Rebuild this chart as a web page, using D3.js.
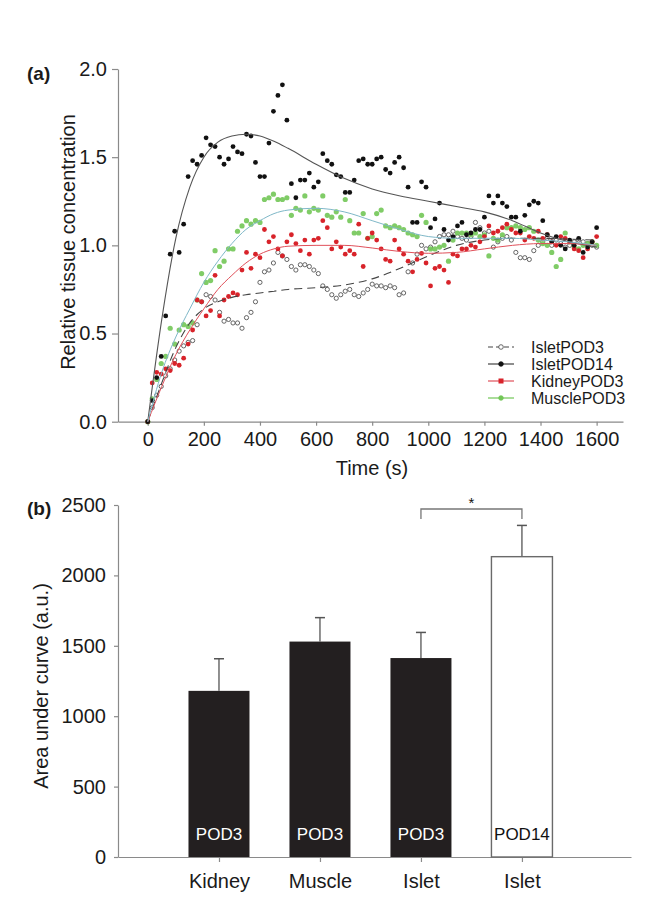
<!DOCTYPE html>
<html><head><meta charset="utf-8">
<script src="https://cdn.jsdelivr.net/npm/d3@7"></script>
<style>body{margin:0;background:#fff}svg{display:block;font-family:"Liberation Sans",Arial,sans-serif}</style>
</head><body><svg id="c" width="654" height="915"></svg>
<script>
// ---------- Panel (a) data ----------
const timeS = [0,16,32,48,64,80,96,112,128,144,160,176,192,208,224,240,256,272,288,304,320,336,352,368,384,400,416,432,448,464,480,496,512,528,544,560,576,592,608,624,640,656,672,688,704,720,736,752,768,784,800,816,832,848,864,880,896,912,928,944,960,976,992,1008,1024,1040,1056,1072,1088,1104,1120,1136,1152,1168,1184,1200,1216,1232,1248,1264,1280,1296,1312,1328,1344,1360,1376,1392,1408,1424,1440,1456,1472,1488,1504,1520,1536,1552,1568,1584,1600];
const isletPOD3 = [0,0.08,0.15,0.20,0.26,0.30,0.35,0.40,0.43,0.45,0.46,0.55,0.68,0.72,0.71,0.69,0.62,0.57,0.58,0.56,0.56,0.53,0.59,0.62,0.68,0.79,0.85,0.86,0.90,0.96,0.94,0.92,0.88,0.86,0.89,0.89,0.88,0.86,0.84,0.77,0.75,0.72,0.70,0.72,0.74,0.75,0.72,0.71,0.73,0.75,0.78,0.77,0.77,0.76,0.77,0.76,0.72,0.73,0.85,0.90,0.95,1.00,0.98,0.99,1.02,1.05,1.06,1.06,1.08,1.05,1.04,1.03,1.05,1.13,1.10,1.07,1.08,0.99,1.02,1.04,1.05,1.03,0.96,0.93,0.93,0.92,0.97,1.00,1.02,1.04,1.00,1.03,1.01,0.99,1.00,1.02,1.03,1.02,1.01,1.00,0.99];
const isletPOD14 = [0,0.12,0.25,0.37,0.60,0.95,1.08,0.96,1.12,1.39,1.48,1.46,1.51,1.61,1.57,1.56,1.50,1.46,1.49,1.56,1.53,1.52,1.63,1.62,1.47,1.39,1.39,1.58,1.76,1.85,1.91,1.71,1.35,1.27,1.37,1.37,1.41,1.33,1.36,1.52,1.48,1.46,1.40,1.39,1.30,1.30,1.37,1.48,1.49,1.46,1.46,1.49,1.50,1.43,1.41,1.47,1.50,1.44,1.33,1.13,1.13,1.36,1.33,1.10,1.15,1.24,1.09,1.03,1.05,1.11,1.13,1.06,1.07,1.09,1.09,1.16,1.28,1.24,1.28,1.24,1.22,1.16,1.16,1.08,1.17,1.23,1.25,1.24,1.14,1.06,1.02,1.05,1.00,0.98,1.03,1.00,1.04,0.96,0.99,1.02,1.10];
const kidneyPOD3 = [0,0.22,0.28,0.27,0.30,0.29,0.33,0.32,0.36,0.44,0.52,0.69,0.68,0.60,0.63,0.83,0.60,0.69,0.71,0.73,0.72,0.86,0.96,0.87,0.95,0.93,1.09,1.02,1.05,0.98,0.94,1.02,1.06,1.01,0.97,1.03,0.95,1.03,1.04,1.14,1.10,0.98,1.02,0.99,0.95,0.97,0.95,1.12,0.88,1.04,1.07,1.03,0.98,0.92,0.91,1.03,0.98,0.95,0.91,0.85,0.92,0.955,0.90,0.77,0.87,0.88,0.86,0.79,0.95,0.94,0.98,0.98,1.00,0.99,1.02,1.05,1.11,1.07,1.08,1.10,1.12,1.09,1.07,1.07,1.03,1.05,1.04,1.08,1.04,1.06,1.02,1.00,1.05,1.04,1.02,0.98,0.97,0.93,0.98,1.02,1.05];
const musclePOD3 = [0,0.13,0.24,0.33,0.37,0.53,0.44,0.52,0.55,0.54,0.56,0.69,0.84,0.79,0.80,0.97,0.88,0.91,0.98,0.98,1.08,1.11,1.14,1.12,1.14,1.13,1.26,1.27,1.29,1.26,1.26,1.27,1.17,1.21,1.20,1.28,1.19,1.21,1.20,1.28,1.17,1.16,1.19,1.16,1.26,1.14,1.07,1.07,1.18,1.04,1.05,1.18,1.20,1.11,1.10,1.11,1.10,1.09,1.07,1.06,1.05,1.17,1.13,0.98,0.98,0.99,1.00,0.91,1.03,1.07,1.07,1.07,1.06,1.07,1.05,1.06,0.94,1.04,1.03,1.06,1.10,1.10,1.11,1.10,1.09,1.10,1.08,1.03,1.01,1.00,0.96,0.88,0.92,1.07,1.02,0.99,0.98,1.00,1.01,1.02,1.00];
// fitted curves (knots)
const fitTime = [0,50,100,150,200,250,300,350,400,450,500,600,700,800,900,1000,1100,1200,1300,1400,1500,1600];
const fitIsletPOD3 = [0,0.22,0.42,0.56,0.64,0.68,0.705,0.72,0.73,0.74,0.75,0.76,0.775,0.81,0.87,0.94,1.0,1.03,1.04,1.04,1.035,1.03];
const fitIsletPOD14 = [0,0.58,1.04,1.33,1.50,1.585,1.62,1.63,1.62,1.59,1.55,1.46,1.38,1.32,1.28,1.25,1.22,1.19,1.14,1.07,1.02,0.99];
const fitKidneyPOD3 = [0,0.2,0.38,0.52,0.64,0.75,0.83,0.9,0.95,0.98,0.995,1.0,1.0,0.985,0.965,0.955,0.96,0.98,1.0,1.01,1.01,1.0];
const fitMusclePOD3 = [0,0.28,0.48,0.64,0.79,0.91,1.01,1.09,1.14,1.18,1.2,1.21,1.19,1.14,1.09,1.05,1.04,1.04,1.04,1.03,1.02,1.0];
const seriesNames = ["IsletPOD3","IsletPOD14","KidneyPOD3","MusclePOD3"];
const xTicksA = [0,200,400,600,800,1000,1200,1400,1600];
const yTicksA = [0,0.5,1.0,1.5,2.0];

// ---------- Panel (b) data ----------
const categories = ["Kidney","Muscle","Islet","Islet"];
const barLabels = ["POD3","POD3","POD3","POD14"];
const aucMean = [1180,1530,1413,2133];
const aucErr = [228,170,182,222];
const yTicksB = [0,500,1000,1500,2000,2500];

const svg = d3.select("#c");
const FONT = 20;
const TXT = "#1a1a1a";

// ================= Panel (a) =================
const xa = d3.scaleLinear().domain([-106,1694]).range([118,623]);
const ya = d3.scaleLinear().domain([0,2]).range([421.7,69]);
const ga = svg.append("g");

const yAxA = ga.append("g").attr("transform","translate(118,0)")
  .call(d3.axisLeft(ya).tickValues(yTicksA).tickFormat(d3.format(".1f")).tickSize(6).tickSizeOuter(0).tickPadding(5));
const xAxA = ga.append("g").attr("transform","translate(0,421.7)")
  .call(d3.axisBottom(xa).tickValues(xTicksA).tickFormat(d3.format("d")).tickSize(4).tickSizeOuter(0).tickPadding(6));
[yAxA,xAxA].forEach(a=>{
  a.selectAll("path,line").attr("stroke","#8a8a8a").attr("stroke-width",1.2);
  a.selectAll("text").attr("font-size",FONT).attr("fill",TXT).attr("font-family","Liberation Sans, Arial, sans-serif");
});

ga.append("text").attr("x",372).attr("y",475).attr("text-anchor","middle").attr("font-size",FONT).attr("fill",TXT).text("Time (s)");
ga.append("text").attr("transform","translate(75,242) rotate(-90)").attr("text-anchor","middle").attr("font-size",FONT).attr("fill",TXT).text("Relative tissue concentration");
ga.append("text").attr("x",27).attr("y",80).attr("font-size",19).attr("font-weight","bold").attr("fill",TXT).text("(a)");

const line = d3.line().x(d=>xa(d[0])).y(d=>ya(d[1])).curve(d3.curveMonotoneX);
function fit(vals){ return fitTime.map((t,i)=>[t,vals[i]]); }
function pts(vals){ return timeS.map((t,i)=>[t,vals[i]]); }

// points
const gp = ga.append("g");
gp.selectAll(".p3").data(pts(isletPOD3)).join("circle")
  .attr("cx",d=>xa(d[0])).attr("cy",d=>ya(d[1])).attr("r",2.1)
  .attr("fill","#fff").attr("stroke","#555").attr("stroke-width",0.9);
gp.selectAll(".mu").data(pts(musclePOD3)).join("circle")
  .attr("cx",d=>xa(d[0])).attr("cy",d=>ya(d[1])).attr("r",2.6)
  .attr("fill","#72c657").attr("opacity",0.9);
gp.selectAll(".ki").data(pts(kidneyPOD3)).join("circle")
  .attr("cx",d=>xa(d[0])).attr("cy",d=>ya(d[1])).attr("r",2.4)
  .attr("fill","#d8232a");
gp.selectAll(".p14").data(pts(isletPOD14)).join("circle")
  .attr("cx",d=>xa(d[0])).attr("cy",d=>ya(d[1])).attr("r",2.4)
  .attr("fill","#111");

// fit curves
ga.append("path").attr("d",line(fit(fitIsletPOD3))).attr("fill","none").attr("stroke","#444").attr("stroke-width",1.1).attr("stroke-dasharray","8,5");
ga.append("path").attr("d",line(fit(fitIsletPOD14))).attr("fill","none").attr("stroke","#555").attr("stroke-width",1.1);
ga.append("path").attr("d",line(fit(fitKidneyPOD3))).attr("fill","none").attr("stroke","#e0505a").attr("stroke-width",1);
ga.append("path").attr("d",line(fit(fitMusclePOD3))).attr("fill","none").attr("stroke","#7fb8c8").attr("stroke-width",1);

// legend
const legY = [347,364,381,398];
const legStyle = [
  {stroke:"#444",dash:"5,3",mark:"open",fill:"#fff",mstroke:"#444"},
  {stroke:"#444",dash:null,mark:"dot",fill:"#111",mstroke:"#111"},
  {stroke:"#e0505a",dash:null,mark:"sq",fill:"#d8232a",mstroke:"#d8232a"},
  {stroke:"#72c657",dash:null,mark:"dot",fill:"#72c657",mstroke:"#72c657"}
];
const gl = ga.append("g");
seriesNames.forEach((n,i)=>{
  const s = legStyle[i], y = legY[i];
  gl.append("line").attr("x1",488).attr("x2",514).attr("y1",y).attr("y2",y)
    .attr("stroke",s.stroke).attr("stroke-width",1.2).attr("stroke-dasharray",s.dash);
  if(s.mark==="sq") gl.append("rect").attr("x",498.5).attr("y",y-2.5).attr("width",5).attr("height",5).attr("fill",s.fill);
  else gl.append("circle").attr("cx",501).attr("cy",y).attr("r",2.3).attr("fill",s.fill).attr("stroke",s.mstroke).attr("stroke-width",0.8);
  gl.append("text").attr("x",531).attr("y",y+5.5).attr("font-size",16).attr("fill",TXT).text(n);
});

// ================= Panel (b) =================
const xb = d3.scaleLinear().domain([0,5.08]).range([118,631]);
const yb = d3.scaleLinear().domain([0,2500]).range([857,505]);
const gb = svg.append("g");
const BW = 61;

const yAxB = gb.append("g").attr("transform","translate(118,0)")
  .call(d3.axisLeft(yb).tickValues(yTicksB).tickFormat(d3.format("d")).tickSize(4).tickSizeOuter(0).tickPadding(8));
const xAxB = gb.append("g").attr("transform","translate(0,857)")
  .call(d3.axisBottom(xb).tickValues([1,2,3,4]).tickFormat(i=>categories[i-1]).tickSize(5).tickSizeOuter(0).tickPadding(12));
[yAxB,xAxB].forEach(a=>{
  a.selectAll("path,line").attr("stroke","#8a8a8a").attr("stroke-width",1.2);
  a.selectAll("text").attr("font-size",FONT).attr("fill",TXT).attr("font-family","Liberation Sans, Arial, sans-serif");
});
gb.append("text").attr("transform","translate(48,686) rotate(-90)").attr("text-anchor","middle").attr("font-size",FONT).attr("fill",TXT).text("Area under curve (a.u.)");
gb.append("text").attr("x",27).attr("y",515).attr("font-size",19).attr("font-weight","bold").attr("fill",TXT).text("(b)");

const bars = categories.map((c,i)=>({i:i+1,m:aucMean[i],e:aucErr[i],lab:barLabels[i],open:i===3}));
// error bars
gb.selectAll(".eb").data(bars).join("line")
  .attr("x1",d=>xb(d.i)).attr("x2",d=>xb(d.i)).attr("y1",d=>yb(d.m)).attr("y2",d=>yb(d.m+d.e))
  .attr("stroke","#555").attr("stroke-width",1.3);
gb.selectAll(".ec").data(bars).join("line")
  .attr("x1",d=>xb(d.i)-5).attr("x2",d=>xb(d.i)+5).attr("y1",d=>yb(d.m+d.e)).attr("y2",d=>yb(d.m+d.e))
  .attr("stroke","#555").attr("stroke-width",1.5);
gb.selectAll(".bar").data(bars).join("rect")
  .attr("x",d=>xb(d.i)-BW/2).attr("width",BW).attr("y",d=>yb(d.m)).attr("height",d=>yb(0)-yb(d.m))
  .attr("fill",d=>d.open?"#fff":"#231f20").attr("stroke",d=>d.open?"#6a6a6a":"none").attr("stroke-width",1.4);
gb.selectAll(".bl").data(bars).join("text")
  .attr("x",d=>xb(d.i)).attr("y",840).attr("text-anchor","middle").attr("font-size",17)
  .attr("fill",d=>d.open?"#111":"#fff").text(d=>d.lab);

// significance bracket
const bx1 = xb(3), bx2 = xb(4), byTop = 509;
gb.append("path").attr("d",`M${bx1},${byTop+10}V${byTop}H${bx2}V${byTop+10}`)
  .attr("fill","none").attr("stroke","#777").attr("stroke-width",1.3);
gb.append("text").attr("x",(bx1+bx2)/2).attr("y",byTop-1).attr("text-anchor","middle").attr("font-size",15).attr("fill","#111").text("*");
</script></body></html>
